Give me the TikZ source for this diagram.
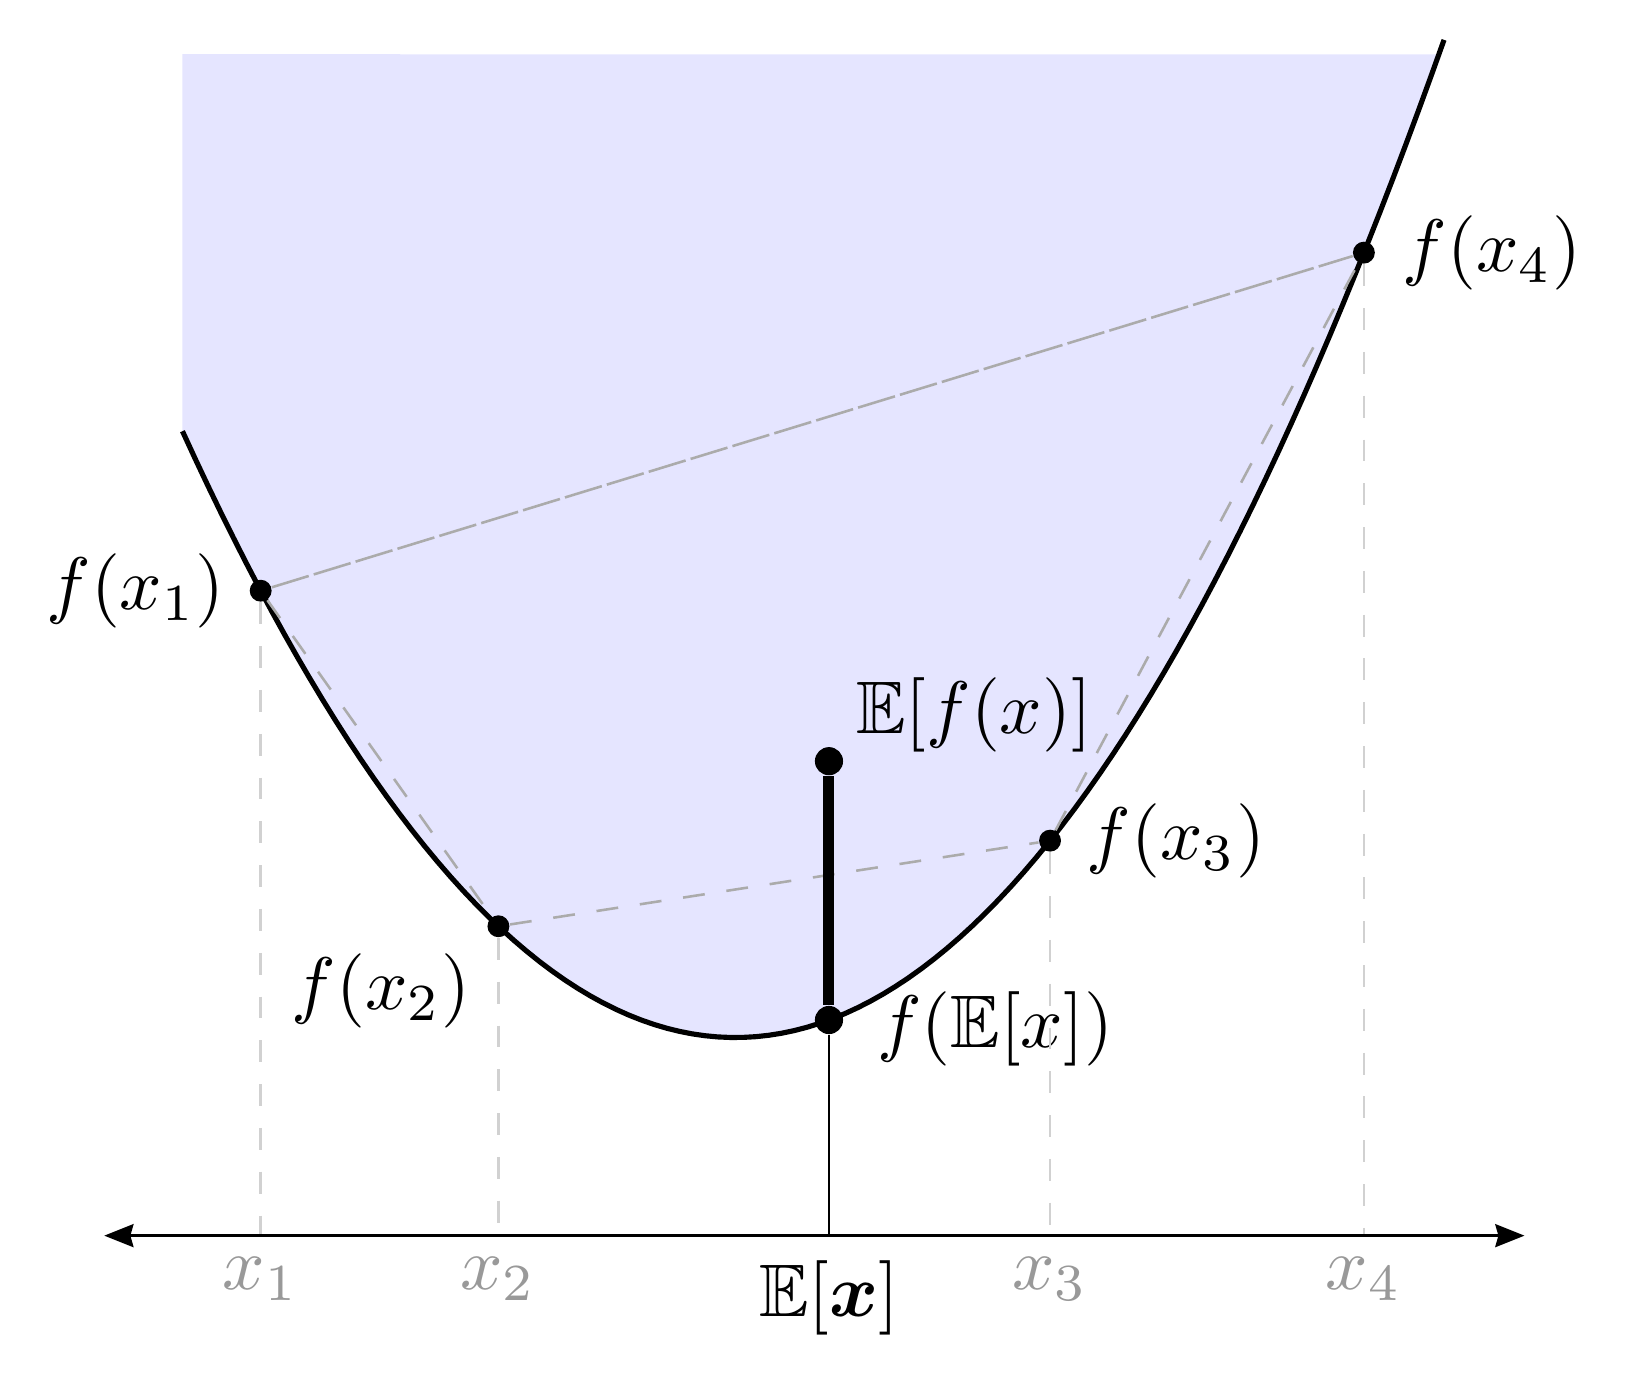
\documentclass[tikz,border=0pt]{standalone}
\usepackage{amsmath}
\usepackage{amssymb}
\usepackage{xcolor}
\usepackage{tikz}
\usetikzlibrary{positioning}
\usetikzlibrary{arrows.meta}

\begin{document}
\begin{tikzpicture}[node distance = 0.2cm]
            \tikzstyle{fdot} = [circle, fill=black, inner sep=0pt, minimum size=0.21cm]
            \tikzstyle{bigdot} = [circle, fill=black, inner sep=0pt, minimum size=0.27cm]
            \tikzstyle{chord} = [line width=0.7pt, black!33, dash pattern=on 0.21cm off 0.21cm]
            \tikzstyle{longchord} = [line width=0.7pt, black!33, dash pattern=on 0.37cm off 0.05cm]
            \tikzstyle{drop} = [line width=0.7pt, black!18, dash pattern=on 0.21cm off 0.21cm]
            \tikzstyle{label} = [scale=2.03]
            \tikzstyle{axlabel} = [scale=2.03, black!40]

            \useasboundingbox (-7.05,-1.34) rectangle (8.63,11.85);

            \fill [blue!10] (-5.3,11.33) -- plot [domain=-5.3:6.75, samples=100] (\x, {1.9+0.207*\x*\x}) -- cycle;
            \draw [line width=1.4pt] plot [domain=-5.3:6.8, samples=100] (\x, {1.9+0.207*\x*\x});

            \coordinate (AL) at (-6.05,0);
            \coordinate (AR) at (7.57,0);
            \coordinate (A1) at (-4.55,0);
            \coordinate (A2) at (-2.27,0);
            \coordinate (AE) at (0.9,0);
            \coordinate (A3) at (3.02,0);
            \coordinate (A4) at (6.03,0);

            \node [fdot] (P1) at (-4.55,6.185) {};
            \node [fdot] (P2) at (-2.27,2.967) {};
            \node [fdot] (P3) at (3.02,3.788) {};
            \node [fdot] (P4) at (6.03,9.427) {};
            \node [bigdot] (PE) at (0.9,2.068) {};
            \node [bigdot] (PEF) at (0.9,4.55) {};

            \node [label, left = -0.02cm of P1] (L1) {$f(x_1)$};
            \node [label, below left = -0.07cm and -0.06cm of P2] (L2) {$f(x_2)$};
            \node [label, right = -0.01cm of P3] (L3) {$f(x_3)$};
            \node [label, right = 0.01cm of P4] (L4) {$f(x_4)$};
            \node [label, right = 0.07cm of PE, yshift=-0.04cm] (LE) {$f(\mathbb{E}[x])$};
            \node [label, above right = -0.27cm and -0.09cm of PEF] (LEF) {$\mathbb{E}[f(x)]$};

            \node [axlabel, below = -0.04cm of A1] (X1) {$x_1$};
            \node [axlabel, below = -0.04cm of A2] (X2) {$x_2$};
            \node [axlabel, below = -0.04cm of A3] (X3) {$x_3$};
            \node [axlabel, below = -0.04cm of A4] (X4) {$x_4$};
            \node [label, below = -0.01cm of AE] (XE) {$\mathbb{E}[\boldsymbol{x}]$};

            \draw [drop] (P1) to (A1);
            \draw [drop] (P2) to (A2);
            \draw [drop] (P3) to (A3);
            \draw [drop] (P4) to (A4);
            \draw [chord] (P1) to (P2);
            \draw [chord] (P2) to (P3);
            \draw [chord] (P3) to (P4);
            \draw [longchord] (P1) to (P4);
            \draw [line width=0.6pt] (PE) to (AE);
            \draw [line width=3pt] (PE) to (PEF);
            \draw [line width=0.8pt, {Stealth[length=0.28cm, width=0.22cm, inset=0.03cm]}-{Stealth[length=0.28cm, width=0.22cm, inset=0.03cm]}] (AL) to (AR);
        \end{tikzpicture}
\end{document}
